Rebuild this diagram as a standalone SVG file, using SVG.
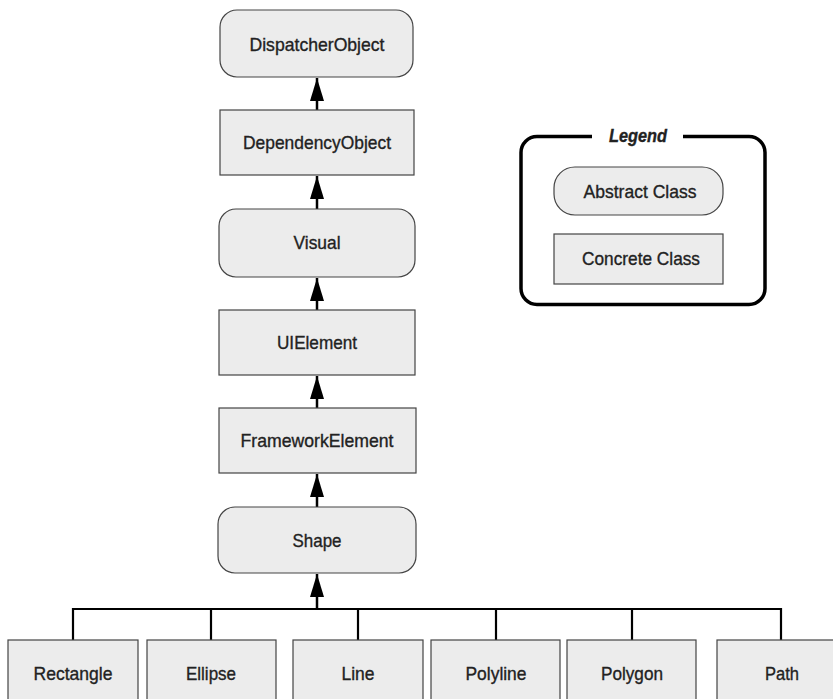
<svg xmlns="http://www.w3.org/2000/svg" width="833" height="699" viewBox="0 0 833 699">
<style>
.n{fill:#ececec;stroke:#444;stroke-width:1.2}
.t{font-family:"Liberation Sans",Arial,sans-serif;font-size:19px;fill:#222;stroke:#222;stroke-width:0.35;text-anchor:middle}
.c{stroke:#000;stroke-width:2.5;fill:none}
.d{stroke:#000;stroke-width:2.2;fill:none}
</style>
<defs>
<marker id="ah" markerWidth="14" markerHeight="23" refX="7" refY="0" orient="0" markerUnits="userSpaceOnUse" viewBox="0 0 14 23" overflow="visible">
<path d="M0,23 L7,0 L14,23 Z" fill="#000"/>
</marker>
</defs>
<rect width="833" height="699" fill="#fff"/>
<g id="connectors">
<line class="c" x1="317" y1="110" x2="317" y2="78" marker-end="url(#ah)"/>
<line class="c" x1="317" y1="209" x2="317" y2="176" marker-end="url(#ah)"/>
<line class="c" x1="317" y1="310" x2="317" y2="278" marker-end="url(#ah)"/>
<line class="c" x1="317" y1="408" x2="317" y2="376" marker-end="url(#ah)"/>
<line class="c" x1="317" y1="507" x2="317" y2="474" marker-end="url(#ah)"/>
<line class="c" x1="317" y1="609" x2="317" y2="574" marker-end="url(#ah)"/>
<polyline class="d" stroke-width="3" points="73,640 73,609 781,609 781,640"/>
<line class="d" x1="211" y1="609" x2="211" y2="640"/>
<line class="d" x1="358" y1="609" x2="358" y2="640"/>
<line class="d" x1="496" y1="609" x2="496" y2="640"/>
<line class="d" x1="632" y1="609" x2="632" y2="640"/>
</g>
<g id="DispatcherObject"><rect class="n" x="220" y="10" width="193" height="67" rx="17"/><text class="t" x="317" y="51" textLength="135" lengthAdjust="spacingAndGlyphs">DispatcherObject</text></g>
<g id="DependencyObject"><rect class="n" x="220" y="110" width="194" height="65"/><text class="t" x="317" y="149" textLength="148" lengthAdjust="spacingAndGlyphs">DependencyObject</text></g>
<g id="Visual"><rect class="n" x="219" y="209" width="196" height="68" rx="17"/><text class="t" x="317" y="249" textLength="47" lengthAdjust="spacingAndGlyphs">Visual</text></g>
<g id="UIElement"><rect class="n" x="219" y="310" width="196" height="65"/><text class="t" x="317" y="349" textLength="80" lengthAdjust="spacingAndGlyphs">UIElement</text></g>
<g id="FrameworkElement"><rect class="n" x="219" y="408" width="197" height="65"/><text class="t" x="317" y="447" textLength="153" lengthAdjust="spacingAndGlyphs">FrameworkElement</text></g>
<g id="Shape"><rect class="n" x="218" y="507" width="198" height="66" rx="17"/><text class="t" x="317" y="547" textLength="49" lengthAdjust="spacingAndGlyphs">Shape</text></g>
<g id="Rectangle"><rect class="n" x="8" y="640" width="130" height="75"/><text class="t" x="73" y="680" textLength="79" lengthAdjust="spacingAndGlyphs">Rectangle</text></g>
<g id="Ellipse"><rect class="n" x="147" y="640" width="129" height="75"/><text class="t" x="211" y="680" textLength="50" lengthAdjust="spacingAndGlyphs">Ellipse</text></g>
<g id="Line"><rect class="n" x="293" y="640" width="130" height="75"/><text class="t" x="358" y="680" textLength="33" lengthAdjust="spacingAndGlyphs">Line</text></g>
<g id="Polyline"><rect class="n" x="431" y="640" width="129" height="75"/><text class="t" x="496" y="680" textLength="61" lengthAdjust="spacingAndGlyphs">Polyline</text></g>
<g id="Polygon"><rect class="n" x="567" y="640" width="129" height="75"/><text class="t" x="632" y="680" textLength="62" lengthAdjust="spacingAndGlyphs">Polygon</text></g>
<g id="Path"><rect class="n" x="717" y="640" width="130" height="75"/><text class="t" x="782" y="680" textLength="34" lengthAdjust="spacingAndGlyphs">Path</text></g>
<g id="Legend">
<path d="M592,136.5 H537 A16,16 0 0 0 521,152.5 V288.5 A16,16 0 0 0 537,304.5 H749 A16,16 0 0 0 765,288.5 V152.5 A16,16 0 0 0 749,136.5 H683" fill="none" stroke="#000" stroke-width="3.5"/>
<text class="t" x="638" y="142" font-weight="bold" font-style="italic" stroke-width="0" textLength="58" lengthAdjust="spacingAndGlyphs">Legend</text>
<rect class="n" x="554" y="167" width="169" height="48" rx="21"/>
<text class="t" x="640" y="198" textLength="113" lengthAdjust="spacingAndGlyphs">Abstract Class</text>
<rect class="n" x="554" y="234" width="169" height="50"/>
<text class="t" x="641" y="265" textLength="118" lengthAdjust="spacingAndGlyphs">Concrete Class</text>
</g>
</svg>
